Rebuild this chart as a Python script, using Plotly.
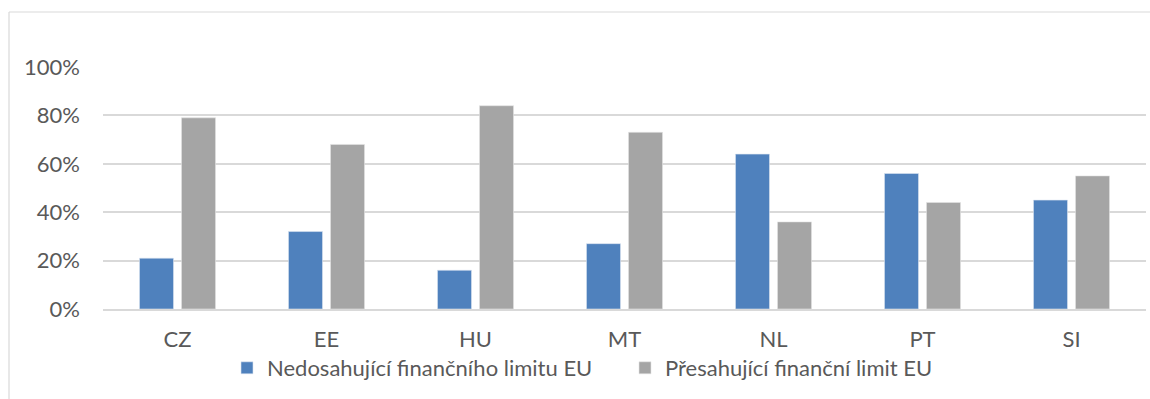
import plotly.graph_objects as go

categories = ["CZ", "EE", "HU", "MT", "NL", "PT", "SI"]
below_limit = [0.21, 0.32, 0.16, 0.27, 0.64, 0.56, 0.45]
above_limit = [0.79, 0.68, 0.84, 0.73, 0.36, 0.44, 0.55]
series_names = ["Nedosahující finančního limitu EU", "Přesahující finanční limit EU"]
tick_vals = [0, 0.2, 0.4, 0.6, 0.8, 1.0]

FONT = "Lato"
TXT = "#595959"
GRID = "#d9d9d9"
FS = 22

fig = go.Figure()
fig.add_trace(go.Bar(x=categories, y=below_limit, name=series_names[0],
                     marker=dict(color="#4f81bd", line=dict(color="#dbe4f0", width=0.6))))
fig.add_trace(go.Bar(x=categories, y=above_limit, name=series_names[1],
                     marker=dict(color="#a5a5a5", line=dict(color="#e4e4e4", width=0.6))))

W, H = 1150, 399
L, R, T, B = 103, 4, 67, 90
pw = W - L - R
ph = H - T - B

def px_x(p):
    return (p - L) / pw

def px_y(p):
    return (H - B - p) / ph

fig.update_layout(
    width=W, height=H,
    margin=dict(l=L, r=R, t=T, b=B),
    paper_bgcolor="white", plot_bgcolor="white",
    barmode="group", bargap=0.436, bargroupgap=0.19,
    font=dict(family=FONT, color=TXT, size=FS),
    showlegend=True,
    legend=dict(orientation="h", x=px_x(227), xanchor="left", y=px_y(368), yanchor="middle",
                font=dict(size=FS, color=TXT), itemwidth=30, entrywidth=353,
                entrywidthmode="pixels", bgcolor="rgba(0,0,0,0)"),
    xaxis=dict(showgrid=False, showline=True, linecolor=GRID, linewidth=1.5,
               ticks="", tickfont=dict(size=FS, color=TXT), ticklabelstandoff=10),
    yaxis=dict(range=[0, 1.0], tickvals=tick_vals, tickformat=".0%", showgrid=True,
               gridcolor=GRID, gridwidth=1.5, zeroline=False, showline=False, ticks="",
               tickfont=dict(size=FS, color=TXT), ticklabelstandoff=22),
    shapes=[
        dict(type="line", xref="paper", yref="paper", x0=px_x(9), x1=px_x(1160),
             y0=px_y(12), y1=px_y(12), line=dict(color=GRID, width=1.2)),
        dict(type="line", xref="paper", yref="paper", x0=px_x(9), x1=px_x(9),
             y0=px_y(12), y1=px_y(410), line=dict(color=GRID, width=1.2)),
    ],
)

fig.write_html("out.html")
